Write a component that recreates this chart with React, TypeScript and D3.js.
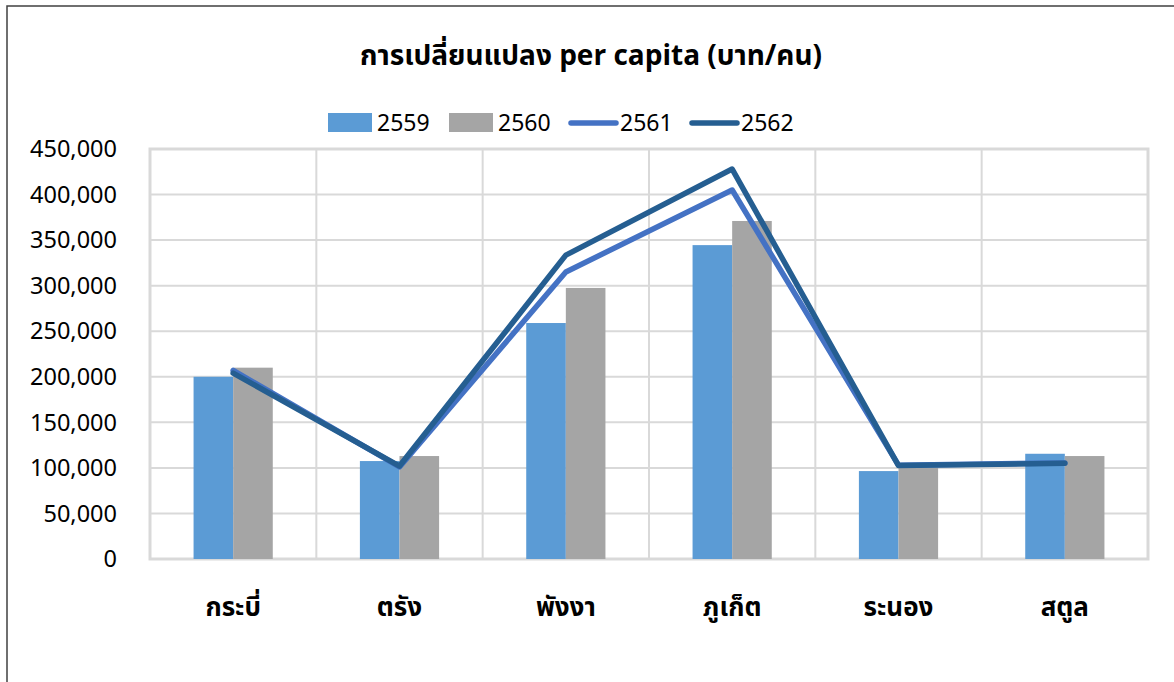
import React, { useEffect, useRef } from "react";
import * as d3 from "d3";

const provinces = ["กระบี่", "ตรัง", "พังงา", "ภูเก็ต", "ระนอง", "สตูล"];
const years = ["2559", "2560", "2561", "2562"];
const v2559 = [200000, 107500, 259000, 344500, 96500, 115500];
const v2560 = [210000, 113000, 297500, 371000, 100000, 113000];
const v2561 = [207000, 101000, 315000, 405000, 103000, 105500];
const v2562 = [204000, 102000, 333500, 428000, 102500, 105000];
const yTicks = [0, 50000, 100000, 150000, 200000, 250000, 300000, 350000, 400000, 450000];

const barColors = ["#5B9BD5", "#A5A5A5"];
const lineColors = ["#4472C4", "#255E91"];
const FONT = "Tahoma, 'Leelawadee UI', 'Noto Sans Thai', 'Noto Sans', sans-serif";

export default function App() {
  const ref = useRef<SVGSVGElement | null>(null);

  useEffect(() => {
    const W = 1174, H = 682;
    const m = { left: 150, right: 26, top: 149, bottom: 123 };
    const svg = d3.select(ref.current);
    svg.selectAll("*").remove();
    svg.attr("width", W).attr("height", H).style("font-family", FONT);

    svg.append("rect").attr("width", W).attr("height", H).attr("fill", "#fff");
    // chart frame
    svg.append("rect").attr("x", 7).attr("y", 6).attr("width", W + 10).attr("height", H + 10)
      .attr("fill", "none").attr("stroke", "#404040").attr("stroke-width", 1.5);

    const x = d3.scaleBand<string>().domain(provinces).range([m.left, W - m.right]);
    const y = d3.scaleLinear().domain([0, 450000]).range([H - m.bottom, m.top]);

    const g = svg.append("g");
    // horizontal grid
    g.selectAll(".hg").data(yTicks).enter().append("line")
      .attr("x1", m.left).attr("x2", W - m.right)
      .attr("y1", d => y(d)).attr("y2", d => y(d))
      .attr("stroke", "#D9D9D9").attr("stroke-width", 2);
    // vertical grid at category boundaries
    const bounds = provinces.map(p => x(p) as number).concat([W - m.right]);
    g.selectAll(".vg").data(bounds).enter().append("line")
      .attr("x1", d => d).attr("x2", d => d)
      .attr("y1", m.top).attr("y2", H - m.bottom)
      .attr("stroke", "#D9D9D9").attr("stroke-width", 2);
    g.append("rect").attr("x", m.left).attr("y", m.top)
      .attr("width", W - m.right - m.left).attr("height", H - m.top - m.bottom)
      .attr("fill", "none").attr("stroke", "#D9D9D9").attr("stroke-width", 3);

    // bars
    const bw = x.bandwidth();
    const inner = d3.scaleBand<number>().domain([0, 1]).range([0, bw]).paddingOuter(1.1).paddingInner(0);
    [v2559, v2560].forEach((vals, si) => {
      g.selectAll(".b" + si).data(vals).enter().append("rect")
        .attr("x", (d, i) => (x(provinces[i]) as number) + (inner(si) as number))
        .attr("width", inner.bandwidth())
        .attr("y", d => y(d)).attr("height", d => y(0) - y(d))
        .attr("fill", barColors[si]);
    });

    // lines
    const line = d3.line<number>().x((d, i) => (x(provinces[i]) as number) + bw / 2).y(d => y(d));
    [v2561, v2562].forEach((vals, si) => {
      g.append("path").datum(vals).attr("d", line)
        .attr("fill", "none").attr("stroke", lineColors[si]).attr("stroke-width", 5.5)
        .attr("stroke-linejoin", "round").attr("stroke-linecap", "round");
    });

    // y axis labels
    g.selectAll(".yl").data(yTicks).enter().append("text")
      .attr("x", 117).attr("y", d => y(d)).attr("dy", "0.35em")
      .attr("text-anchor", "end").attr("font-size", 23.5).attr("fill", "#000")
      .text(d => d3.format(",")(d));

    // x labels
    g.selectAll(".xl").data(provinces).enter().append("text")
      .attr("x", d => (x(d) as number) + bw / 2).attr("y", 616)
      .attr("text-anchor", "middle").attr("font-size", 26).attr("font-weight", "bold")
      .attr("fill", "#000").text(d => d);

    // title
    svg.append("text").attr("x", 591).attr("y", 65).attr("text-anchor", "middle")
      .attr("font-size", 28).attr("font-weight", "bold").attr("fill", "#000")
      .text("การเปลี่ยนแปลง per capita (บาท/คน)");

    // legend
    const legX = [328, 449, 569, 690];
    const leg = svg.append("g");
    years.forEach((yr, i) => {
      if (i < 2) {
        leg.append("rect").attr("x", legX[i]).attr("y", 113).attr("width", 44).attr("height", 19)
          .attr("fill", barColors[i]);
      } else {
        leg.append("line").attr("x1", legX[i] + 2).attr("x2", legX[i] + 47)
          .attr("y1", 123).attr("y2", 123).attr("stroke", lineColors[i - 2])
          .attr("stroke-width", 5.5).attr("stroke-linecap", "round");
      }
      leg.append("text").attr("x", legX[i] + (i < 2 ? 49 : 51)).attr("y", 123).attr("dy", "0.35em")
        .attr("font-size", 23).attr("fill", "#000").text(yr);
    });
  }, []);

  return <svg ref={ref} style={{ position: "absolute", left: 0, top: 0 }} />;
}
